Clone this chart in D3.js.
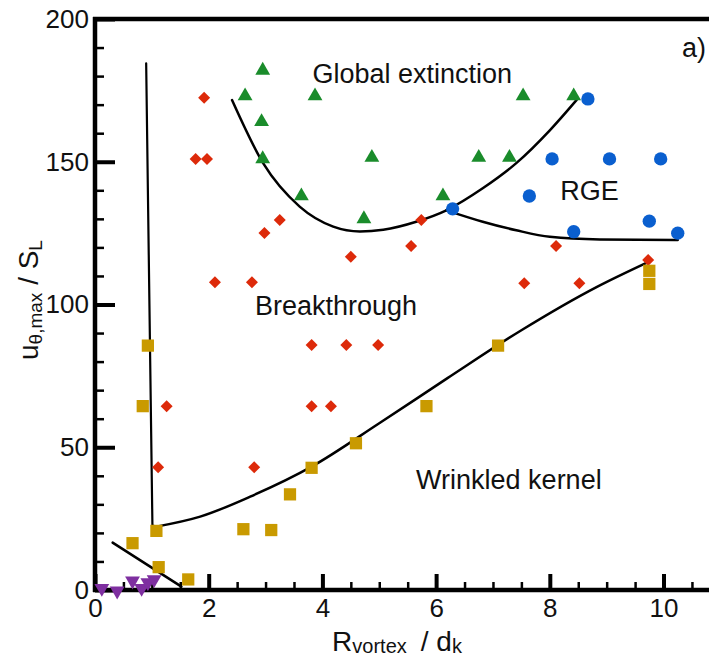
<!DOCTYPE html>
<html>
<head>
<meta charset="utf-8">
<script src="https://cdn.jsdelivr.net/npm/d3@7"></script>
<style>
  html, body { margin: 0; padding: 0; background: #fff; }
  svg { display: block; font-family: "Liberation Sans", Arial, Helvetica, sans-serif; }
  .tick text { font-size: 26px; fill: #111; }
  .region { font-size: 27px; fill: #111; }
</style>
</head>
<body>
<svg id="chart" width="709" height="658"></svg>
<script>
// Regime points: [R_vortex/d_k, u_theta,max/S_L]
const globalExtinction = [
  [2.95, 182], [2.64, 173], [3.87, 173], [2.93, 164], [2.95, 151],
  [3.63, 138], [4.73, 130], [4.87, 151.5], [6.75, 151.5], [7.29, 151.5],
  [7.53, 173], [8.42, 173], [6.12, 138]
];
const rge = [
  [8.67, 172], [8.04, 151], [9.05, 151], [9.95, 151], [7.64, 138],
  [6.29, 133.5], [8.42, 125.5], [9.75, 129.2], [10.25, 125]
];
const breakthrough = [
  [1.92, 172.4], [1.77, 151], [1.97, 151], [3.25, 129.6], [2.98, 125],
  [4.50, 116.7], [2.11, 107.8], [2.76, 107.8], [5.74, 129.6], [5.56, 120.5],
  [8.11, 120.5], [9.73, 115.6], [7.55, 107.4], [8.52, 107.4], [3.81, 85.8],
  [4.42, 85.8], [4.98, 85.8], [1.26, 64.4], [3.81, 64.4], [4.15, 64.4],
  [1.11, 43], [2.80, 43]
];
const wrinkledKernel = [
  [0.93, 85.6], [0.84, 64.4], [1.08, 20.7], [0.66, 16.4], [1.12, 8.0],
  [1.64, 3.7], [2.61, 21.3], [3.10, 21.0], [3.43, 33.5], [3.81, 42.8],
  [4.59, 51.4], [5.83, 64.4], [7.09, 85.6], [9.75, 111.8], [9.75, 107.2]
];
const quenched = [
  [0.12, 0.6], [0.39, -0.3], [0.66, 3.2], [0.82, 0.6], [0.93, 2.6], [1.04, 3.7]
];

// Regime boundaries
const leftBoundary = [[0.90, 184.5], [1.01, 22.6], [1.08, 22.2]];
const kernelBoundary = [
  [1.08, 22.2], [1.85, 25.7], [2.73, 32.7], [3.81, 43.2], [5.0, 58.4],
  [6.2, 74.2], [7.5, 91], [8.83, 106.2], [9.71, 114.7]
];
const lowBoundary = [[0.31, 16.6], [1.52, 1.2]];
const extinctionBoundary = [
  [2.41, 171.6], [2.96, 149.4], [3.60, 134.3], [4.19, 127.3], [4.66, 125.6],
  [5.07, 126.2], [5.65, 129], [6.18, 133], [6.82, 140.7], [7.41, 149.5],
  [8.0, 161], [8.47, 171.6]
];
const rgeBoundary = [
  [6.18, 133], [6.82, 129], [7.41, 126], [8.0, 123.7], [8.88, 122.8], [10.25, 122.6]
];

// Axis ticks
const xMajor = [0, 2, 4, 6, 8, 10];
const xMinor = d3.range(0, 10.81, 0.5).filter(v => v % 2 !== 0);
const yMajor = [0, 50, 100, 150, 200];
const yMinor = d3.range(0, 201, 10).filter(v => v % 50 !== 0);

// Region labels [text, x, y]
const regionLabels = [
  ["Global extinction", 5.58, 177.5],
  ["RGE", 8.70, 136.5],
  ["Breakthrough", 4.24, 96.3],
  ["Wrinkled kernel", 7.28, 35.5]
];

const svg = d3.select("#chart");
const W = 709, H = 658;
const x = d3.scaleLinear().domain([0, 10.8]).range([95, 709]);
const y = d3.scaleLinear().domain([0, 200]).range([590, 19]);

// Minor ticks
svg.append("g").attr("transform", `translate(0,${y(0)})`)
  .call(d3.axisBottom(x).tickValues(xMinor).tickSize(-8).tickSizeOuter(0).tickFormat(""))
  .call(g => g.select(".domain").remove())
  .call(g => g.selectAll("line").attr("stroke", "#000").attr("stroke-width", 2.5));
svg.append("g").attr("transform", `translate(${x(0)},0)`)
  .call(d3.axisLeft(y).tickValues(yMinor).tickSize(-9).tickSizeOuter(0).tickFormat(""))
  .call(g => g.select(".domain").remove())
  .call(g => g.selectAll("line").attr("stroke", "#000").attr("stroke-width", 2.5));

// Major ticks with labels
svg.append("g").attr("transform", `translate(0,${y(0)})`)
  .call(d3.axisBottom(x).tickValues(xMajor).tickSize(-16).tickSizeOuter(0).tickPadding(6).tickFormat(d3.format("d")))
  .call(g => g.select(".domain").remove())
  .call(g => g.selectAll("line").attr("stroke", "#000").attr("stroke-width", 4))
  .call(g => g.selectAll("text").attr("font-family", null).attr("font-size", null).attr("dy", "0.8em"));
svg.append("g").attr("transform", `translate(${x(0)},0)`)
  .call(d3.axisLeft(y).tickValues(yMajor).tickSize(-20).tickSizeOuter(0).tickPadding(6).tickFormat(d3.format("d")))
  .call(g => g.select(".domain").remove())
  .call(g => g.selectAll("line").attr("stroke", "#000").attr("stroke-width", 4))
  .call(g => g.selectAll("text").attr("font-family", null).attr("font-size", null));

// Frame: left, bottom and top lines
const frame = svg.append("g").attr("stroke", "#000").attr("stroke-width", 4.5).attr("fill", "none");
frame.append("line").attr("x1", x(0)).attr("x2", x(0)).attr("y1", y(200) - 2).attr("y2", y(0) + 2);
frame.append("line").attr("x1", x(0) - 2).attr("x2", W).attr("y1", y(0)).attr("y2", y(0));
frame.append("line").attr("x1", x(0) - 2).attr("x2", W).attr("y1", y(200)).attr("y2", y(200));

// Boundaries
const linePath = d3.line().x(d => x(d[0])).y(d => y(d[1]));
const curvePath = d3.line().x(d => x(d[0])).y(d => y(d[1])).curve(d3.curveMonotoneX);
const lines = svg.append("g").attr("fill", "none").attr("stroke", "#000").attr("stroke-linecap", "round").attr("stroke-linejoin", "round");
lines.append("path").attr("d", linePath(leftBoundary)).attr("stroke-width", 2.2);
lines.append("path").attr("d", curvePath(kernelBoundary)).attr("stroke-width", 2.5);
lines.append("path").attr("d", linePath(lowBoundary)).attr("stroke-width", 2.5);
lines.append("path").attr("d", curvePath(extinctionBoundary)).attr("stroke-width", 2.5);
lines.append("path").attr("d", curvePath(rgeBoundary)).attr("stroke-width", 2.5);

// Markers
function drawSeries(data, type, size, color, rotate) {
  const sym = d3.symbol().type(type).size(size);
  svg.append("g").selectAll("path").data(data).join("path")
    .attr("d", sym)
    .attr("fill", color)
    .attr("transform", d => `translate(${x(d[0])},${y(d[1])}) rotate(${rotate})`);
}
drawSeries(breakthrough, d3.symbolSquare, 72, "#dd2a0a", 45);
drawSeries(wrinkledKernel, d3.symbolSquare, 150, "#c99a00", 0);
drawSeries(globalExtinction, d3.symbolTriangle, 95, "#1a8c2b", 0);
drawSeries(rge, d3.symbolCircle, 140, "#0a5fcf", 0);
drawSeries(quenched, d3.symbolTriangle, 95, "#7e2fa0", 180);

// Region labels
svg.append("g").selectAll("text").data(regionLabels).join("text")
  .attr("class", "region")
  .attr("x", d => x(d[1])).attr("y", d => y(d[2]))
  .attr("text-anchor", "middle")
  .text(d => d[0]);

// Panel tag
svg.append("text").attr("class", "region").attr("x", 706).attr("y", 57)
  .attr("text-anchor", "end").text("a)");

// Axis titles
const xt = svg.append("text").attr("x", 397).attr("y", 651).attr("text-anchor", "middle")
  .attr("font-size", 28).attr("fill", "#111");
xt.append("tspan").text("R");
xt.append("tspan").attr("font-size", 20).attr("dy", 2).text("vortex");
xt.append("tspan").attr("dy", -2).text("\u2002/ d");
xt.append("tspan").attr("font-size", 20).attr("dy", 2).text("k");

const yt = svg.append("text").attr("transform", "translate(38,300) rotate(-90)")
  .attr("text-anchor", "middle").attr("font-size", 28).attr("fill", "#111");
yt.append("tspan").text("u");
yt.append("tspan").attr("font-size", 19).attr("dy", 4).text("\u03b8,max");
yt.append("tspan").attr("dy", -4).text(" / S");
yt.append("tspan").attr("font-size", 19).attr("dy", 4).text("L");
</script>
</body>
</html>
